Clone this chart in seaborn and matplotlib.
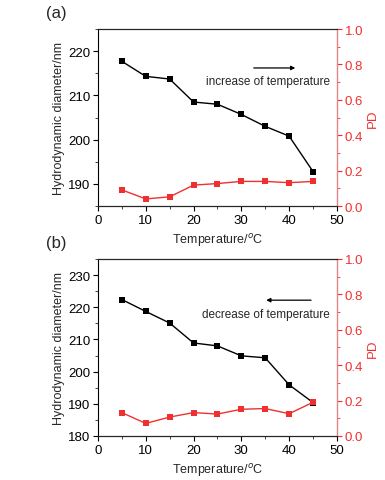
import matplotlib
matplotlib.use("Agg")
import matplotlib.pyplot as plt
import seaborn as sns
import pandas as pd
from matplotlib.ticker import MultipleLocator

sns.set_theme(style="ticks")
plt.rcParams['font.family'] = ['Liberation Sans', 'DejaVu Sans']

temperature = [5, 10, 15, 20, 25, 30, 35, 40, 45]
diam_a = [217.7, 214.3, 213.7, 208.5, 208.0, 205.7, 203.0, 200.8, 192.8]
pd_a = [0.091, 0.040, 0.052, 0.118, 0.127, 0.139, 0.139, 0.132, 0.139]
diam_b = [222.4, 218.7, 215.1, 208.9, 208.0, 204.9, 204.3, 195.9, 190.4]
pd_b = [0.132, 0.071, 0.107, 0.132, 0.124, 0.151, 0.155, 0.126, 0.190]

panels = [
    dict(tag="(a)", diam=diam_a, pdv=pd_a, ylim=(185, 225), yticks=[190, 200, 210, 220],
         text="increase of temperature", tx=35.6, ty=213.2,
         arr_from=(32.6, 216.2), arr_to=(41.3, 216.2)),
    dict(tag="(b)", diam=diam_b, pdv=pd_b, ylim=(180, 235), yticks=[180, 190, 200, 210, 220, 230],
         text="decrease of temperature", tx=35.1, ty=217.8,
         arr_from=(44.6, 222.2), arr_to=(35.2, 222.2)),
]

RED = "#f03030"
fig = plt.figure(figsize=(3.85, 4.81), dpi=100)
boxes = [(0.2545, 0.5696, 0.6205, 0.368), (0.2545, 0.0915, 0.6205, 0.368)]

for p, box in zip(panels, boxes):
    ax = fig.add_axes(box)
    df = pd.DataFrame({"T": temperature, "D": p["diam"], "P": p["pdv"]})
    sns.lineplot(data=df, x="T", y="D", ax=ax, color="black", marker="s",
                 markersize=4.5, markeredgewidth=0, linewidth=1.0)
    ax.set_xlim(0, 50)
    ax.set_ylim(*p["ylim"])
    ax.set_yticks(p["yticks"])
    ax.xaxis.set_major_locator(MultipleLocator(10))
    ax.xaxis.set_minor_locator(MultipleLocator(5))
    ax.yaxis.set_minor_locator(MultipleLocator(5))
    ax.tick_params(axis='both', which='major', direction='out', length=3.5, width=0.8,
                   labelsize=9.5, colors='black', pad=2)
    ax.tick_params(axis='both', which='minor', direction='out', length=2, width=0.6)
    ax.set_xlabel("Temperature/$^o$C", fontsize=9, labelpad=4)
    ax.set_ylabel("Hydrodynamic diameter/nm", fontsize=9, labelpad=2)
    for s in ax.spines.values():
        s.set_linewidth(0.8)
        s.set_color("black")

    ax2 = ax.twinx()
    sns.lineplot(data=df, x="T", y="P", ax=ax2, color=RED, marker="s",
                 markersize=4.5, markeredgewidth=0, linewidth=1.0)
    ax2.set_ylim(0, 1.0)
    ax2.yaxis.set_major_locator(MultipleLocator(0.2))
    ax2.yaxis.set_minor_locator(MultipleLocator(0.1))
    ax2.tick_params(axis='y', which='major', direction='out', length=3.5, width=0.8,
                    labelsize=9.5, colors=RED, pad=2)
    ax2.tick_params(axis='y', which='minor', direction='out', length=2, width=0.6, colors=RED)
    ax2.set_ylabel("PD", fontsize=9.5, color=RED, labelpad=3)
    ax2.spines['right'].set_color("#f08080")
    ax2.spines['right'].set_linewidth(0.8)
    ax2.spines['left'].set_visible(False)
    ax2.spines['top'].set_linewidth(0.8)
    ax2.spines['bottom'].set_linewidth(0.8)
    ax2.set_xlabel("")

    ax.text(p["tx"], p["ty"], p["text"], fontsize=8.5, ha="center", va="center")
    ax.annotate("", xy=p["arr_to"], xytext=p["arr_from"],
                arrowprops=dict(arrowstyle="-|>", color="black", lw=0.9,
                                mutation_scale=6, shrinkA=0, shrinkB=0))
    fig.text(0.146, box[1] + box[3] + 0.034, p["tag"], fontsize=12,
             ha="center", va="center")

fig.savefig("out.png", dpi=100)
